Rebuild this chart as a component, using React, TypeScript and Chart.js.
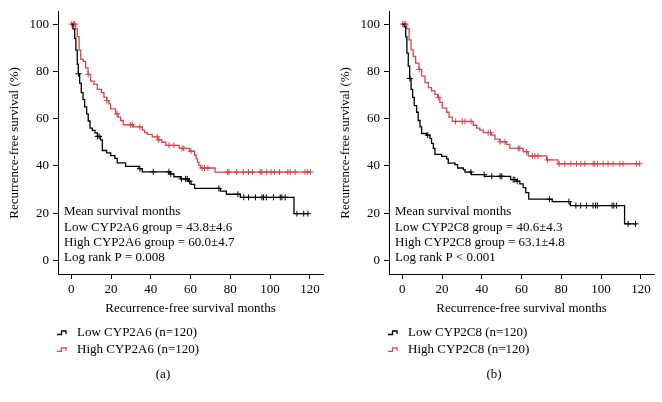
import React, { useEffect, useRef } from "react";
import { Chart, registerables } from "chart.js";

Chart.register(...registerables);

const FONT = "'Liberation Serif', 'Times New Roman', serif";
const RED = "#d4454d";

const xTicks = [0, 20, 40, 60, 80, 100, 120];
const yTicks = [0, 20, 40, 60, 80, 100];

// Panel (a) — CYP2A6
const lowA_t = [0, 0.8, 1.7, 2.3, 3.0, 3.5, 4.2, 5.0, 5.9, 6.7, 7.7, 8.5, 9.4, 10.6, 11.9, 13.1, 14.7, 15.6, 17.8, 19.8, 21.9, 23.1, 27.3, 34.0, 35.7, 49.5, 51.6, 55.0, 58.8, 60.2, 62.0, 75.0, 78.0, 85.0, 112.0];
const lowA_s = [100, 98, 94, 89, 83, 79, 75, 71, 68, 65, 62, 59, 56, 55, 54, 52.5, 51, 46.5, 45.5, 44.3, 43.2, 41.3, 39.8, 38.8, 37.5, 36.6, 35.4, 34.5, 33.5, 32.2, 30.5, 29.3, 28, 26.7, 19.8];
const lowA_end = 119.4;
const lowA_c = [3.6, 13.2, 14.0, 34.5, 41.2, 49.1, 50.0, 55.4, 57.5, 58.3, 59.5, 74.2, 83.8, 86.7, 89.2, 92.6, 95.9, 96.7, 98.1, 101.7, 105.1, 105.9, 107.6, 113.5, 116.9, 119.0];

const highA_t = [0, 2.2, 3.0, 3.9, 4.7, 6.0, 7.2, 8.4, 9.7, 11.4, 13.1, 15.1, 16.4, 17.8, 18.9, 19.8, 22.3, 23.5, 24.8, 26.1, 31.2, 35.7, 36.9, 38.2, 40.7, 43.5, 45.5, 47.5, 54.3, 59.5, 62.0, 62.8, 63.5, 64.2, 65.0, 72.3];
const highA_s = [100, 98, 94.7, 89, 85.2, 84.2, 81.5, 78.7, 75.9, 74.5, 72.4, 71, 69, 67.6, 66.2, 64.1, 62, 60.6, 59.2, 57.4, 56.5, 55.1, 54.1, 53.3, 52.3, 51, 50, 48.7, 47.4, 46.2, 44.5, 43, 41.5, 40.2, 39.1, 37.4];
const highA_end = 120.3;
const highA_c = [0.2, 1.0, 1.7, 8.5, 17.9, 23.0, 29.8, 30.7, 34.5, 43.2, 44.0, 49.1, 51.6, 55.8, 56.6, 60.2, 65.8, 67.0, 68.7, 78.5, 79.3, 83.2, 86.5, 89.1, 91.1, 95.0, 95.8, 98.3, 100.5, 102.2, 104.7, 108.9, 110.1, 112.6, 117.6, 118.9, 120.3];

// Panel (b) — CYP2C8
const lowB_t = [0, 1.0, 1.7, 2.3, 3.0, 3.7, 4.4, 5.2, 6.0, 7.2, 8.0, 8.9, 9.7, 12.2, 13.9, 14.7, 15.6, 16.4, 19.8, 22.3, 23.1, 26.5, 27.8, 30.7, 31.5, 34.8, 41.5, 54.5, 57.5, 59.1, 60.8, 62.1, 63.6, 75.4, 84.5, 111.8];
const lowB_s = [100, 98.8, 94.6, 87.7, 82.2, 77, 72.4, 69, 65.5, 62.7, 59.2, 56.5, 53.7, 53, 51.6, 49.5, 47.4, 44.9, 44, 43, 41.2, 40.5, 39.1, 38.4, 37.4, 36.3, 35.6, 34.2, 33.5, 32.4, 30.8, 28.7, 25.9, 24.9, 23.2, 15.5];
const lowB_end = 117.8;
const lowB_c = [3.8, 12.8, 34.5, 41.2, 45.0, 49.2, 50.0, 55.8, 56.6, 57.8, 74.0, 83.8, 87.3, 89.7, 92.6, 95.9, 97.2, 98.1, 105.5, 106.4, 107.7, 113.6, 117.3];

const highB_t = [0, 2.2, 3.4, 4.4, 5.5, 6.7, 8.4, 9.7, 11.4, 13.1, 14.7, 16.4, 17.8, 18.9, 20.1, 22.3, 23.5, 25.1, 35.7, 37.4, 39.0, 40.7, 44.9, 46.6, 49.1, 52.4, 54.1, 60.8, 63.3, 72.6, 78.3];
const highB_s = [100, 98.1, 93.3, 89.1, 86.3, 83.5, 80.8, 78, 75.2, 73.1, 71.7, 70.3, 69, 66.9, 64.4, 62.7, 60.6, 58.8, 57.2, 56, 55.1, 54.1, 53, 51.3, 50.2, 49.1, 47.4, 46, 44.2, 42.5, 40.9];
const highB_end = 119.4;
const highB_c = [0.2, 1.0, 1.7, 8.5, 18.2, 26.8, 30.2, 31.5, 34.6, 43.2, 44.4, 49.2, 51.6, 58.3, 59.1, 62.5, 65.5, 66.7, 68.3, 73.0, 78.9, 81.7, 84.8, 87.6, 89.8, 91.8, 96.0, 96.8, 98.2, 101.0, 103.5, 106.0, 109.4, 111.0, 117.8, 119.4];

const notesA = ["Mean survival months", "Low CYP2A6 group = 43.8\u00b14.6", "High CYP2A6 group = 60.0\u00b14.7", "Log rank P = 0.008"];
const notesB = ["Mean survival months", "Low CYP2C8 group = 40.6\u00b14.3", "High CYP2C8 group = 63.1\u00b14.8", "Log rank P < 0.001"];
const legendA = ["Low CYP2A6 (n=120)", "High CYP2A6 (n=120)"];
const legendB = ["Low CYP2C8 (n=120)", "High CYP2C8 (n=120)"];

function stepAt(ts: number[], ss: number[], t: number) {
  let v = ss[0];
  for (let i = 0; i < ts.length; i++) if (ts[i] <= t) v = ss[i];
  return v;
}
function linePts(ts: number[], ss: number[], end: number) {
  const pts = ts.map((t, i) => ({ x: t, y: ss[i] }));
  pts.push({ x: end, y: ss[ss.length - 1] });
  return pts;
}
function censPts(ts: number[], ss: number[], cs: number[]) {
  return cs.map((c) => ({ x: c, y: stepAt(ts, ss, c) }));
}

type Series = { t: number[]; s: number[]; end: number; c: number[] };

function Panel(props: { low: Series; high: Series; notes: string[]; legend: string[]; label: string }) {
  const ref = useRef<HTMLCanvasElement | null>(null);
  useEffect(() => {
    if (!ref.current) return;
    const { low, high, notes, legend, label } = props;
    const overlay = {
      id: "overlay",
      afterDraw(chart: any) {
        const ctx = chart.ctx;
        const ca = chart.chartArea;
        ctx.save();
        ctx.fillStyle = "#000";
        ctx.font = `13px ${FONT}`;
        ctx.textBaseline = "middle";
        ctx.textAlign = "left";
        notes.forEach((n, i) => ctx.fillText(n, ca.left + 6, 212 + i * 15.2));
        // legend
        const cols = ["#000", RED];
        legend.forEach((l, i) => {
          const y = 333 + i * 16.8;
          ctx.strokeStyle = cols[i];
          ctx.lineWidth = 1.3;
          ctx.beginPath();
          ctx.moveTo(57, y + 1.5);
          ctx.lineTo(61.5, y + 1.5);
          ctx.lineTo(61.5, y - 2);
          ctx.lineTo(66, y - 2);
          ctx.lineTo(66, y + 1);
          ctx.stroke();
          ctx.fillStyle = "#000";
          ctx.fillText(l, 77, y);
        });
        ctx.textAlign = "center";
        ctx.fillText(label, 163, 375);
        ctx.restore();
      },
    };
    const tickFont = { family: FONT, size: 13 };
    const chart = new Chart(ref.current, {
      type: "line",
      data: {
        datasets: [
          { label: legend[0], data: linePts(low.t, low.s, low.end), borderColor: "#000", borderWidth: 1.3, stepped: true, pointRadius: 0, fill: false } as any,
          { label: legend[1], data: linePts(high.t, high.s, high.end), borderColor: RED, borderWidth: 1.3, stepped: true, pointRadius: 0, fill: false } as any,
          { type: "scatter", data: censPts(low.t, low.s, low.c), pointStyle: "cross", pointRadius: 3, borderColor: "#000", backgroundColor: "#000", borderWidth: 1, showLine: false } as any,
          { type: "scatter", data: censPts(high.t, high.s, high.c), pointStyle: "cross", pointRadius: 3, borderColor: RED, backgroundColor: RED, borderWidth: 1, showLine: false } as any,
        ],
      },
      options: {
        animation: false,
        responsive: false,
        layout: { padding: { left: 0, right: 8, top: 8, bottom: 86 } },
        plugins: { legend: { display: false }, tooltip: { enabled: false } },
        scales: {
          x: {
            type: "linear",
            min: -6.7,
            max: 126.6,
            afterBuildTicks: (s: any) => { s.ticks = xTicks.map((v) => ({ value: v })); },
            afterFit: (s: any) => { s.height = 42; },
            grid: { display: true, drawOnChartArea: false, drawTicks: true, tickLength: 5, color: "#000", lineWidth: 1 },
            border: { display: true, color: "#000", width: 1 },
            ticks: { color: "#000", font: tickFont, padding: 3, maxRotation: 0, autoSkip: false },
            title: { display: true, text: "Recurrence-free survival months", color: "#000", font: tickFont, padding: { top: 0, bottom: 0 } },
          },
          y: {
            type: "linear",
            min: -5.75,
            max: 105.2,
            afterBuildTicks: (s: any) => { s.ticks = yTicks.map((v) => ({ value: v })); },
            afterFit: (s: any) => { s.width = 58; },
            grid: { display: true, drawOnChartArea: false, drawTicks: true, tickLength: 5, color: "#000", lineWidth: 1 },
            border: { display: true, color: "#000", width: 1 },
            ticks: { color: "#000", font: tickFont, padding: 4, autoSkip: false },
            title: { display: true, text: "Recurrence-free survival (%)", color: "#000", font: tickFont, padding: { top: 7, bottom: 0 } },
          },
        },
      } as any,
      plugins: [overlay],
    });
    return () => chart.destroy();
  }, []);
  return <canvas ref={ref} width={331} height={402} style={{ display: "block", width: 331, height: 402 }} />;
}

export default function App() {
  return (
    <div style={{ position: "absolute", left: 0, top: 0, width: 662, height: 402, background: "#fff", display: "flex" }}>
      <Panel low={{ t: lowA_t, s: lowA_s, end: lowA_end, c: lowA_c }} high={{ t: highA_t, s: highA_s, end: highA_end, c: highA_c }} notes={notesA} legend={legendA} label="(a)" />
      <Panel low={{ t: lowB_t, s: lowB_s, end: lowB_end, c: lowB_c }} high={{ t: highB_t, s: highB_s, end: highB_end, c: highB_c }} notes={notesB} legend={legendB} label="(b)" />
    </div>
  );
}
